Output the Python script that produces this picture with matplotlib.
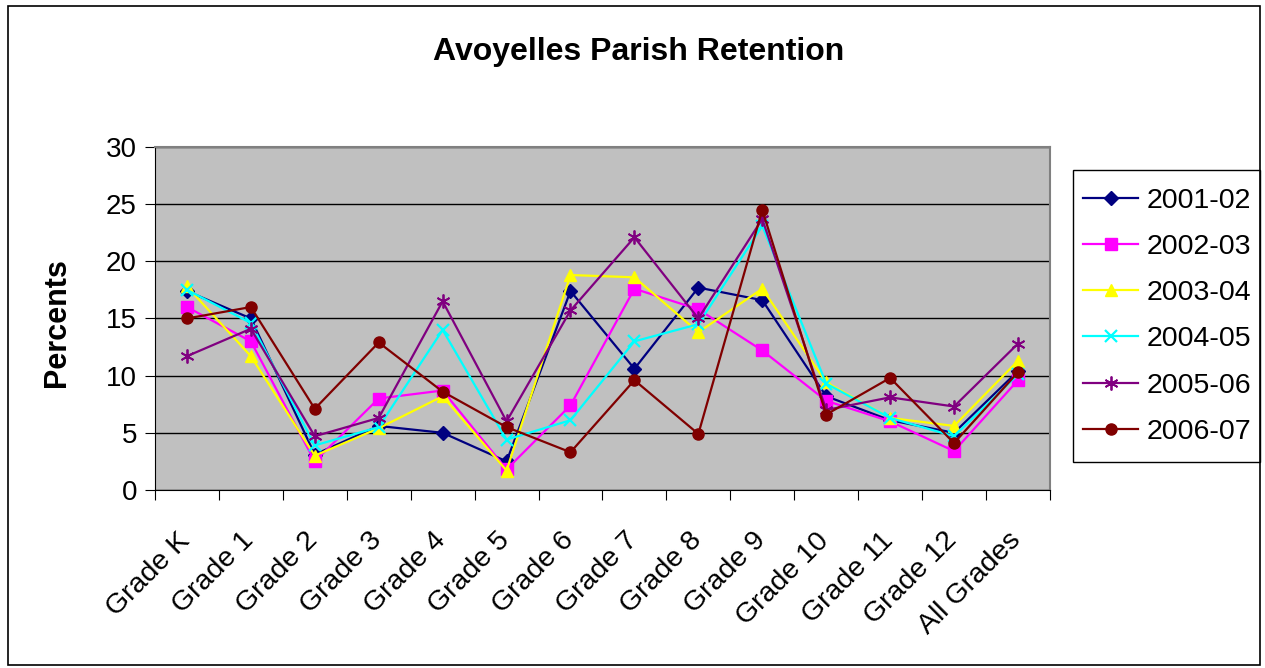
import matplotlib.pyplot as plt
import matplotlib.transforms as mtransforms
import numpy as np

plt.rcParams['font.family'] = ['Liberation Sans', 'DejaVu Sans']

grades = ["Grade K", "Grade 1", "Grade 2", "Grade 3", "Grade 4", "Grade 5", "Grade 6",
          "Grade 7", "Grade 8", "Grade 9", "Grade 10", "Grade 11", "Grade 12", "All Grades"]

y2001 = [17.4, 15.0, 3.1, 5.6, 5.0, 2.5, 17.4, 10.6, 17.7, 16.6, 8.2, 6.1, 5.0, 10.4]
y2002 = [16.0, 13.0, 2.5, 8.0, 8.7, 1.8, 7.4, 17.6, 15.8, 12.2, 7.8, 6.0, 3.4, 9.6]
y2003 = [17.8, 11.7, 3.0, 5.4, 8.2, 1.7, 18.8, 18.6, 13.8, 17.6, 9.4, 6.3, 5.6, 11.3]
y2004 = [17.5, 14.6, 3.9, 5.5, 14.0, 4.4, 6.1, 13.0, 14.5, 23.1, 9.3, 6.3, 4.7, 10.1]
y2005 = [11.7, 14.1, 4.7, 6.3, 16.5, 6.0, 15.7, 22.1, 15.0, 23.7, 7.0, 8.1, 7.3, 12.8]
y2006 = [15.0, 16.0, 7.1, 12.9, 8.6, 5.5, 3.3, 9.6, 4.9, 24.5, 6.6, 9.8, 4.1, 10.3]

fig = plt.figure(figsize=(12.65, 6.68), dpi=100)
ax = fig.add_axes([0.1225, 0.2665, 0.7075, 0.5135])
ax.set_facecolor('#C0C0C0')

x = np.arange(len(grades))
ax.plot(x, y2001, color='#000080', marker='D', markersize=7, lw=1.6, label='2001-02')
ax.plot(x, y2002, color='#FF00FF', marker='s', markersize=8, lw=1.6, label='2002-03')
ax.plot(x, y2003, color='#FFFF00', marker='^', markersize=9, lw=1.6, label='2003-04')
ax.plot(x, y2004, color='#00FFFF', marker='x', markersize=9, mew=1.6, lw=1.6, label='2004-05')
ax.plot(x, y2005, color='#800080', marker=(6, 2, 0), markersize=10, mew=1.3, lw=1.6, label='2005-06')
ax.plot(x, y2006, color='#800000', marker='o', markersize=8, lw=1.6, label='2006-07')

ax.set_ylim(0, 30)
ax.set_xlim(-0.5, len(grades) - 0.5)
ax.set_yticks(range(0, 31, 5))
ax.yaxis.grid(True, color='black', lw=1)
ax.set_axisbelow(True)

ax.set_xticks(np.arange(-0.5, len(grades), 1))
ax.set_xticklabels([])
ax.set_xticks(x, minor=True)
ax.set_xticklabels(grades, minor=True, rotation=45, ha='right', va='top',
                   rotation_mode='anchor', fontsize=20.5)
ax.tick_params(axis='x', which='minor', length=0, pad=27)
ax.tick_params(axis='x', which='major', length=7, direction='out')
ax.tick_params(axis='y', labelsize=20, length=7, direction='out', pad=6)

shift = mtransforms.ScaledTranslation(-10 / 100, 0, fig.dpi_scale_trans)
for lbl in ax.get_xticklabels(minor=True):
    lbl.set_transform(lbl.get_transform() + shift)

ax.spines['top'].set_color('#808080')
ax.spines['right'].set_color('#808080')
ax.spines['top'].set_linewidth(1.5)
ax.spines['right'].set_linewidth(1.5)

fig.text(57 / 1265, 0.5165, 'Percents', rotation=90, ha='center', va='center',
         fontsize=22, fontweight='bold')
fig.text(0.5047, 0.922, 'Avoyelles Parish Retention', ha='center', va='center',
         fontsize=23, fontweight='bold')

# legend without its own frame, box drawn separately
leg = ax.legend(loc='upper left', bbox_to_anchor=(1065 / 1265, 1 - 170 / 668),
                bbox_transform=fig.transFigure, borderaxespad=0,
                fontsize=20.5, frameon=False,
                borderpad=0.62, labelspacing=0.71, handlelength=1.96, handletextpad=0.28)
fig.patches.append(plt.Rectangle((1073 / 1265, 1 - 462 / 668), 187 / 1265, 292 / 668,
                                 transform=fig.transFigure, fill=False,
                                 edgecolor='black', lw=1))

fig.patches.append(plt.Rectangle((0.006, 0.004), 0.99, 0.987, transform=fig.transFigure,
                                 fill=False, edgecolor='black', lw=1.2))

plt.savefig('out.png')
